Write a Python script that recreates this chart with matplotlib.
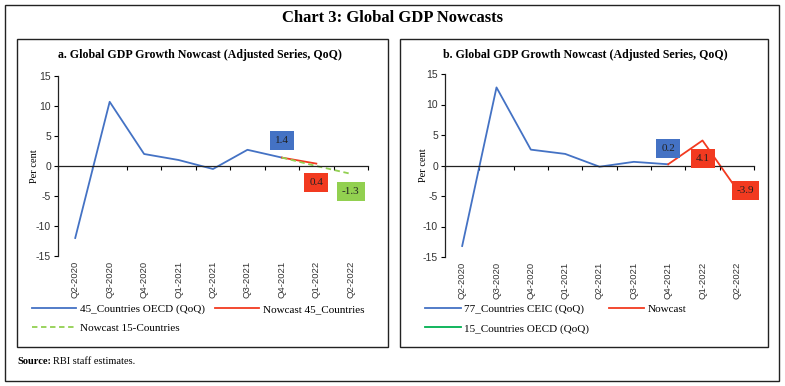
import matplotlib
matplotlib.use("Agg")
import matplotlib.pyplot as plt
from matplotlib.patches import Rectangle
from matplotlib.transforms import blended_transform_factory

quarters = ["Q2-2020", "Q3-2020", "Q4-2020", "Q1-2021", "Q2-2021",
            "Q3-2021", "Q4-2021", "Q1-2022", "Q2-2022"]

# panel a
oecd45 = [-12.0, 10.7, 2.0, 1.0, -0.5, 2.7, 1.4]
nowcast45_x = [6, 7]
nowcast45 = [1.4, 0.4]
nowcast15_x = [6, 7, 8]
nowcast15 = [1.4, 0.0, -1.3]

# panel b
ceic77 = [-13.2, 12.8, 2.6, 1.9, -0.2, 0.6, 0.2]
nowcast_b_x = [6, 7, 8]
nowcast_b = [0.2, 4.1, -3.9]

BLUE = "#4472C4"
RED = "#F23A20"
LGREEN = "#92D050"
GREEN = "#00B050"

serif = "Liberation Serif"
sans = "Liberation Sans"
plt.rcParams["axes.unicode_minus"] = False

fig = plt.figure(figsize=(7.85, 3.86), dpi=100)
W, H = 785, 386


def fx(x):
    return x / W


def fy(y):
    return 1 - y / H


def box(x0, y0, x1, y1, lw=1.0):
    fig.patches.append(Rectangle((fx(x0), fy(y1)), fx(x1 - x0), (y1 - y0) / H,
                                 transform=fig.transFigure, fill=False,
                                 edgecolor="#222222", linewidth=lw))


box(5, 5, 779, 381)
box(17, 39, 388, 347)
box(400, 39, 768, 347)

fig.text(fx(392), fy(18), "Chart 3: Global GDP Nowcasts", ha="center", va="center",
         fontsize=12, family=serif, fontweight="semibold")
fig.text(fx(200), fy(55), "a. Global GDP Growth Nowcast (Adjusted Series, QoQ)",
         ha="center", va="center", fontsize=8.6, family=serif, fontweight="bold")
fig.text(fx(585), fy(55), "b. Global GDP Growth Nowcast (Adjusted Series, QoQ)",
         ha="center", va="center", fontsize=8.6, family=serif, fontweight="bold")
fig.text(fx(17), fy(362), "Source:", ha="left", va="center", fontsize=7.5,
         family=serif, fontweight="bold")
fig.text(fx(53), fy(362), "RBI staff estimates.", ha="left", va="center", fontsize=7.5,
         family=serif)


def setup(ax, label_x):
    ax.set_xlim(-0.5, 8.5)
    ax.set_ylim(-15, 15)
    ax.set_yticks([-15, -10, -5, 0, 5, 10, 15])
    ax.spines["top"].set_visible(False)
    ax.spines["right"].set_visible(False)
    ax.spines["bottom"].set_position(("data", 0))
    for s in ("left", "bottom"):
        ax.spines[s].set_linewidth(0.9)
        ax.spines[s].set_color("#222222")
    ax.set_xticks([i - 0.5 for i in range(10)])
    ax.set_xticklabels([])
    ax.tick_params(axis="x", direction="out", length=3, width=0.8)
    ax.tick_params(axis="y", direction="out", length=3, width=0.8, labelsize=7.5, pad=2)
    for lab in ax.get_yticklabels():
        lab.set_family(sans)
        lab.set_color("#333333")
    tr = blended_transform_factory(ax.transData, ax.transAxes)
    for i, q in enumerate(quarters):
        ax.text(i, -0.025, q, rotation=90, ha="center", va="top", transform=tr,
                fontsize=6.8, family=sans, color="#333333")
    ax.set_ylabel("Per cent", fontsize=7.5, family=serif)
    ax.yaxis.set_label_coords(label_x, 0.5)
    ax.patch.set_alpha(0)


def label(ax, x, y, txt, color):
    ax.text(x, y, txt, ha="center", va="center", fontsize=8, family=serif,
            color="#222222", bbox=dict(boxstyle="square,pad=0.45", fc=color, ec="none"))


legend_kw = dict(loc="upper left", bbox_transform=fig.transFigure, ncol=2, frameon=False,
                 prop={"family": serif, "size": 8}, handletextpad=0.3,
                 labelspacing=0.85, borderaxespad=0, borderpad=0)

# panel a
ax1 = fig.add_axes([fx(58), fy(256), fx(310), 180 / H])
setup(ax1, -0.06)
l1, = ax1.plot(range(len(oecd45)), oecd45, color=BLUE, lw=1.3)
l2, = ax1.plot(nowcast45_x, nowcast45, color=RED, lw=1.3)
l3, = ax1.plot(nowcast15_x, nowcast15, color=LGREEN, lw=1.3, ls=(0, (3, 2)))
label(ax1, 6, oecd45[6] + 2.8, "1.4", BLUE)
label(ax1, 7, nowcast45[1] - 3.1, "0.4", RED)
label(ax1, 8, nowcast15[2] - 2.9, "-1.3", LGREEN)
ax1.legend([l1, l3, l2],
           ["45_Countries OECD (QoQ)", "Nowcast 15-Countries", "Nowcast 45_Countries"],
           bbox_to_anchor=(fx(32), fy(304)), handlelength=4.0, columnspacing=0.9,
           **legend_kw)

# panel b
ax2 = fig.add_axes([fx(445), fy(257), fx(309), 183 / H])
setup(ax2, -0.055)
m1, = ax2.plot(range(len(ceic77)), ceic77, color=BLUE, lw=1.3)
m2, = ax2.plot(nowcast_b_x, nowcast_b, color=RED, lw=1.3)
m3, = ax2.plot([], [], color=GREEN, lw=1.3)
label(ax2, 6, ceic77[6] + 2.6, "0.2", BLUE)
label(ax2, 7, nowcast_b[1] - 2.9, "4.1", RED)
label(ax2, 8.25, nowcast_b[2] - 0.2, "-3.9", RED)
ax2.legend([m1, m3, m2],
           ["77_Countries CEIC (QoQ)", "15_Countries OECD (QoQ)", "Nowcast"],
           bbox_to_anchor=(fx(425), fy(304)), handlelength=3.2, columnspacing=1.8,
           **legend_kw)

fig.savefig("out.png", dpi=100)
